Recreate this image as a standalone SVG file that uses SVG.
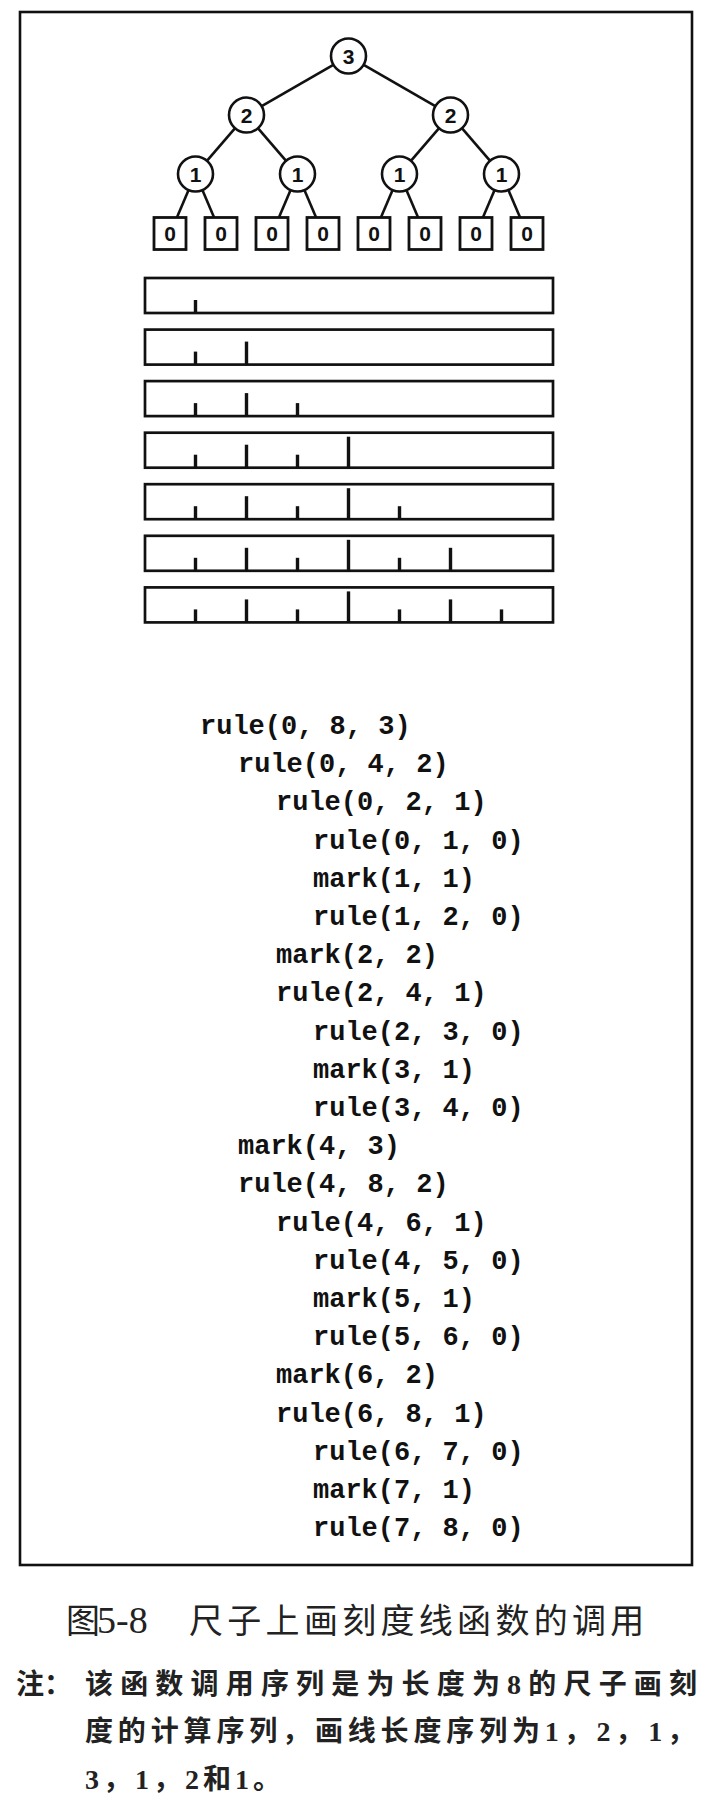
<svg xmlns="http://www.w3.org/2000/svg" width="722" height="1802" viewBox="0 0 722 1802">
<style>
.frame{fill:none;stroke:#111;stroke-width:2.6}
.edge{stroke:#111;stroke-width:2.6;fill:none}
.circ{fill:#fff;stroke:#111;stroke-width:2.6}
.box{fill:#fff;stroke:#111;stroke-width:2.8}
.num{font-family:"Liberation Sans",Arial,sans-serif;font-weight:bold;font-size:21px;fill:#111;text-anchor:middle}
.ruler{fill:#fff;stroke:#111;stroke-width:2.7}
.tick{stroke:#111;stroke-width:3.4}
.code{font-family:"Liberation Mono","Courier New",monospace;font-weight:bold;font-size:27px;fill:#111}
.cap{font-family:"Noto Sans CJK SC",sans-serif;font-size:34px;fill:#222}
.capnum{font-family:"Liberation Serif",serif;font-size:38px;fill:#222}
.note{font-family:"Liberation Serif","Noto Sans CJK SC",serif;font-weight:bold;font-size:28px;fill:#222}
</style>
<rect width="722" height="1802" fill="#fff"/>
<rect class="frame" x="20" y="12" width="672" height="1553"/>

<g id="connectors">
<line class="edge" x1="333.3" y1="64.8" x2="261.7" y2="106.2"/>
<line class="edge" x1="363.7" y1="64.8" x2="435.3" y2="106.2"/>
<line class="edge" x1="235.1" y1="128.2" x2="206.9" y2="160.8"/>
<line class="edge" x1="257.9" y1="128.2" x2="286.1" y2="160.8"/>
<line class="edge" x1="439.1" y1="128.2" x2="410.9" y2="160.8"/>
<line class="edge" x1="461.9" y1="128.2" x2="490.1" y2="160.8"/>
<line class="edge" x1="188.6" y1="190.1" x2="176.9" y2="217.5"/>
<line class="edge" x1="202.4" y1="190.1" x2="214.1" y2="217.5"/>
<line class="edge" x1="290.6" y1="190.1" x2="278.9" y2="217.5"/>
<line class="edge" x1="304.4" y1="190.1" x2="316.1" y2="217.5"/>
<line class="edge" x1="392.6" y1="190.1" x2="380.9" y2="217.5"/>
<line class="edge" x1="406.4" y1="190.1" x2="418.1" y2="217.5"/>
<line class="edge" x1="494.6" y1="190.1" x2="482.9" y2="217.5"/>
<line class="edge" x1="508.4" y1="190.1" x2="520.1" y2="217.5"/>
</g>

<g id="n3"><circle class="circ" cx="348.5" cy="56" r="17.5"/><text class="num" x="348.5" y="63.5">3</text></g>
<g id="n2a"><circle class="circ" cx="246.5" cy="115" r="17.5"/><text class="num" x="246.5" y="122.5">2</text></g>
<g id="n2b"><circle class="circ" cx="450.5" cy="115" r="17.5"/><text class="num" x="450.5" y="122.5">2</text></g>
<g id="n1a"><circle class="circ" cx="195.5" cy="174" r="17.5"/><text class="num" x="195.5" y="181.5">1</text></g>
<g id="n1b"><circle class="circ" cx="297.5" cy="174" r="17.5"/><text class="num" x="297.5" y="181.5">1</text></g>
<g id="n1c"><circle class="circ" cx="399.5" cy="174" r="17.5"/><text class="num" x="399.5" y="181.5">1</text></g>
<g id="n1d"><circle class="circ" cx="501.5" cy="174" r="17.5"/><text class="num" x="501.5" y="181.5">1</text></g>
<g id="n0a"><rect class="box" x="154" y="217.5" width="32" height="32"/><text class="num" x="170" y="241">0</text></g>
<g id="n0b"><rect class="box" x="205" y="217.5" width="32" height="32"/><text class="num" x="221" y="241">0</text></g>
<g id="n0c"><rect class="box" x="256" y="217.5" width="32" height="32"/><text class="num" x="272" y="241">0</text></g>
<g id="n0d"><rect class="box" x="307" y="217.5" width="32" height="32"/><text class="num" x="323" y="241">0</text></g>
<g id="n0e"><rect class="box" x="358" y="217.5" width="32" height="32"/><text class="num" x="374" y="241">0</text></g>
<g id="n0f"><rect class="box" x="409" y="217.5" width="32" height="32"/><text class="num" x="425" y="241">0</text></g>
<g id="n0g"><rect class="box" x="460" y="217.5" width="32" height="32"/><text class="num" x="476" y="241">0</text></g>
<g id="n0h"><rect class="box" x="511" y="217.5" width="32" height="32"/><text class="num" x="527" y="241">0</text></g>

<g id="rulers">
<g id="ruler1"><rect class="ruler" x="145" y="278" width="408" height="35"/>
<line class="tick" x1="195.5" y1="313" x2="195.5" y2="300"/></g>
<g id="ruler2"><rect class="ruler" x="145" y="329.6" width="408" height="35"/>
<line class="tick" x1="195.5" y1="364.6" x2="195.5" y2="351.6"/><line class="tick" x1="246.5" y1="364.6" x2="246.5" y2="341.6"/></g>
<g id="ruler3"><rect class="ruler" x="145" y="381.1" width="408" height="35"/>
<line class="tick" x1="195.5" y1="416.1" x2="195.5" y2="403.1"/><line class="tick" x1="246.5" y1="416.1" x2="246.5" y2="393.1"/><line class="tick" x1="297.5" y1="416.1" x2="297.5" y2="403.1"/></g>
<g id="ruler4"><rect class="ruler" x="145" y="432.7" width="408" height="35"/>
<line class="tick" x1="195.5" y1="467.7" x2="195.5" y2="454.7"/><line class="tick" x1="246.5" y1="467.7" x2="246.5" y2="444.7"/><line class="tick" x1="297.5" y1="467.7" x2="297.5" y2="454.7"/><line class="tick" x1="348.5" y1="467.7" x2="348.5" y2="436.7"/></g>
<g id="ruler5"><rect class="ruler" x="145" y="484.2" width="408" height="35"/>
<line class="tick" x1="195.5" y1="519.2" x2="195.5" y2="506.2"/><line class="tick" x1="246.5" y1="519.2" x2="246.5" y2="496.2"/><line class="tick" x1="297.5" y1="519.2" x2="297.5" y2="506.2"/><line class="tick" x1="348.5" y1="519.2" x2="348.5" y2="488.2"/><line class="tick" x1="399.5" y1="519.2" x2="399.5" y2="506.2"/></g>
<g id="ruler6"><rect class="ruler" x="145" y="535.8" width="408" height="35"/>
<line class="tick" x1="195.5" y1="570.8" x2="195.5" y2="557.8"/><line class="tick" x1="246.5" y1="570.8" x2="246.5" y2="547.8"/><line class="tick" x1="297.5" y1="570.8" x2="297.5" y2="557.8"/><line class="tick" x1="348.5" y1="570.8" x2="348.5" y2="539.8"/><line class="tick" x1="399.5" y1="570.8" x2="399.5" y2="557.8"/><line class="tick" x1="450.5" y1="570.8" x2="450.5" y2="547.8"/></g>
<g id="ruler7"><rect class="ruler" x="145" y="587.4" width="408" height="35"/>
<line class="tick" x1="195.5" y1="622.4" x2="195.5" y2="609.4"/><line class="tick" x1="246.5" y1="622.4" x2="246.5" y2="599.4"/><line class="tick" x1="297.5" y1="622.4" x2="297.5" y2="609.4"/><line class="tick" x1="348.5" y1="622.4" x2="348.5" y2="591.4"/><line class="tick" x1="399.5" y1="622.4" x2="399.5" y2="609.4"/><line class="tick" x1="450.5" y1="622.4" x2="450.5" y2="599.4"/><line class="tick" x1="501.5" y1="622.4" x2="501.5" y2="609.4"/></g>
</g>

<g id="calls" class="code">
<text x="200" y="734">rule(0, 8, 3)</text>
<text x="238" y="772.2">rule(0, 4, 2)</text>
<text x="276" y="810.4">rule(0, 2, 1)</text>
<text x="313" y="848.6">rule(0, 1, 0)</text>
<text x="313" y="886.8">mark(1, 1)</text>
<text x="313" y="925">rule(1, 2, 0)</text>
<text x="276" y="963.2">mark(2, 2)</text>
<text x="276" y="1001.4">rule(2, 4, 1)</text>
<text x="313" y="1039.6">rule(2, 3, 0)</text>
<text x="313" y="1077.8">mark(3, 1)</text>
<text x="313" y="1116">rule(3, 4, 0)</text>
<text x="238" y="1154.2">mark(4, 3)</text>
<text x="238" y="1192.4">rule(4, 8, 2)</text>
<text x="276" y="1230.6">rule(4, 6, 1)</text>
<text x="313" y="1268.8">rule(4, 5, 0)</text>
<text x="313" y="1307">mark(5, 1)</text>
<text x="313" y="1345.2">rule(5, 6, 0)</text>
<text x="276" y="1383.4">mark(6, 2)</text>
<text x="276" y="1421.6">rule(6, 8, 1)</text>
<text x="313" y="1459.8">rule(6, 7, 0)</text>
<text x="313" y="1498">mark(7, 1)</text>
<text x="313" y="1536.2">rule(7, 8, 0)</text>
</g>

<g id="caption">
<text class="cap" x="66" y="1633">图</text>
<text class="capnum" x="97" y="1633">5-8</text>
<text class="cap" x="189" y="1633" letter-spacing="4.3">尺子上画刻度线函数的调用</text>
</g>

<g id="note" class="note">
<text x="16" y="1694">注：</text>
<text x="85" y="1694" textLength="612" lengthAdjust="spacing">该函数调用序列是为长度为8的尺子画刻</text>
<text x="85" y="1741" textLength="610" lengthAdjust="spacing">度的计算序列，画线长度序列为1，2，1，</text>
<text x="85" y="1789" letter-spacing="4">3，1，2和1。</text>
</g>
</svg>
